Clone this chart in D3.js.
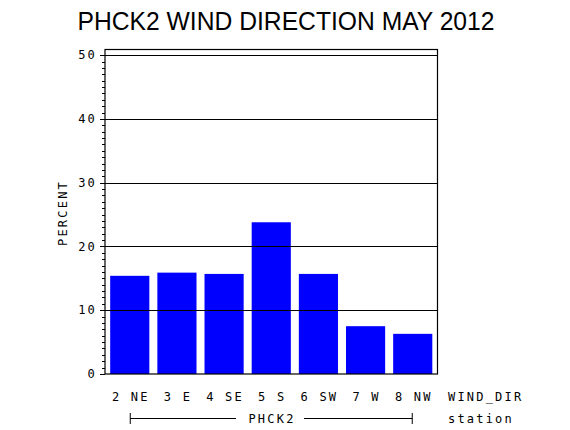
<!DOCTYPE html>
<html>
<head>
<meta charset="utf-8">
<script src="https://cdn.jsdelivr.net/npm/d3@7"></script>
<style>
  body { margin: 0; background: #fff; }
  .mono { font-family: "DejaVu Sans Mono", monospace; font-size: 12px; letter-spacing: 2.2px; fill: #000; }
</style>
</head>
<body>
<svg id="chart" width="570" height="430"></svg>
<script>
// data
const categories = ["2 NE", "3 E", "4 SE", "5 S", "6 SW", "7 W", "8 NW"];
const percents = [15.4, 15.9, 15.7, 23.8, 15.7, 7.5, 6.3];
const yTicks = [0, 10, 20, 30, 40, 50];
const titleText = "PHCK2 WIND DIRECTION MAY 2012";
const stationName = "PHCK2";

const svg = d3.select("#chart");
const plotLeft = 105, plotRight = 437.5, plotTop = 49.5, plotBottom = 374;

const x = d3.scaleBand()
    .domain(categories)
    .range([plotLeft, plotRight])
    .paddingInner(0.17)
    .paddingOuter(0.11);

const y = d3.scaleLinear()
    .domain([0, 50.9])
    .range([plotBottom, plotTop]);

// title
svg.append("text")
    .attr("x", 286)
    .attr("y", 30)
    .attr("text-anchor", "middle")
    .attr("font-family", "Liberation Sans, Arial, sans-serif")
    .attr("font-size", 25)
    .attr("textLength", 417)
    .attr("lengthAdjust", "spacingAndGlyphs")
    .text(titleText);

// bars
svg.selectAll("rect.bar")
    .data(percents)
    .enter().append("rect")
    .attr("class", "bar")
    .attr("x", (d, i) => x(categories[i]))
    .attr("width", x.bandwidth())
    .attr("y", d => y(d))
    .attr("height", d => plotBottom - y(d))
    .attr("fill", "#0000ff");

// grid lines (drawn over bars)
svg.selectAll("line.grid")
    .data(yTicks.filter(t => t > 0))
    .enter().append("line")
    .attr("x1", plotLeft).attr("x2", plotRight)
    .attr("y1", d => Math.round(y(d)) + 0.5)
    .attr("y2", d => Math.round(y(d)) + 0.5)
    .attr("stroke", "#000")
    .attr("stroke-width", 1.2);

// frame
svg.append("rect")
    .attr("x", plotLeft).attr("y", plotTop)
    .attr("width", plotRight - plotLeft).attr("height", plotBottom - plotTop)
    .attr("fill", "none")
    .attr("stroke", "#000")
    .attr("stroke-width", 1.2);

// y axis with minor ticks
const yAxis = svg.append("g").attr("transform", `translate(${plotLeft},0)`);
yAxis.selectAll("line.minor")
    .data(d3.range(0, 51))
    .enter().append("line")
    .attr("x1", d => d % 10 === 0 ? -5 : -3)
    .attr("x2", 0)
    .attr("y1", d => Math.round(y(d)) + 0.5)
    .attr("y2", d => Math.round(y(d)) + 0.5)
    .attr("stroke", "#000");

yAxis.selectAll("text")
    .data(yTicks)
    .enter().append("text")
    .attr("class", "mono")
    .attr("x", -8)
    .attr("y", d => y(d))
    .attr("dy", "0.35em")
    .attr("text-anchor", "end")
    .text(d => d);

svg.append("text")
    .attr("class", "mono")
    .attr("transform", "translate(67,213) rotate(-90)")
    .attr("text-anchor", "middle")
    .text("PERCENT");

// x category labels
svg.selectAll("text.cat")
    .data(categories)
    .enter().append("text")
    .attr("class", "mono")
    .attr("x", d => x(d) + x.bandwidth() / 2 + 1)
    .attr("y", 401)
    .attr("text-anchor", "middle")
    .text(d => d);

svg.append("text")
    .attr("class", "mono")
    .attr("x", 448)
    .attr("y", 401)
    .text("WIND_DIR");

// station bracket
const bx0 = x(categories[0]) + x.bandwidth() / 2 + 0.5;
const bx1 = x(categories[categories.length - 1]) + x.bandwidth() / 2 - 0.5;
const by = 418.5;
svg.append("text")
    .attr("class", "mono")
    .attr("x", 272)
    .attr("y", 423)
    .attr("text-anchor", "middle")
    .text(stationName);
svg.append("line").attr("x1", bx0).attr("x2", 236).attr("y1", by).attr("y2", by).attr("stroke", "#000");
svg.append("line").attr("x1", 304).attr("x2", bx1).attr("y1", by).attr("y2", by).attr("stroke", "#000");
[bx0, bx1].forEach(bx => {
  svg.append("line").attr("x1", bx).attr("x2", bx).attr("y1", by - 5.5).attr("y2", by + 5.5).attr("stroke", "#000");
});

svg.append("text")
    .attr("class", "mono")
    .attr("x", 448)
    .attr("y", 423)
    .text("station");
</script>
</body>
</html>
